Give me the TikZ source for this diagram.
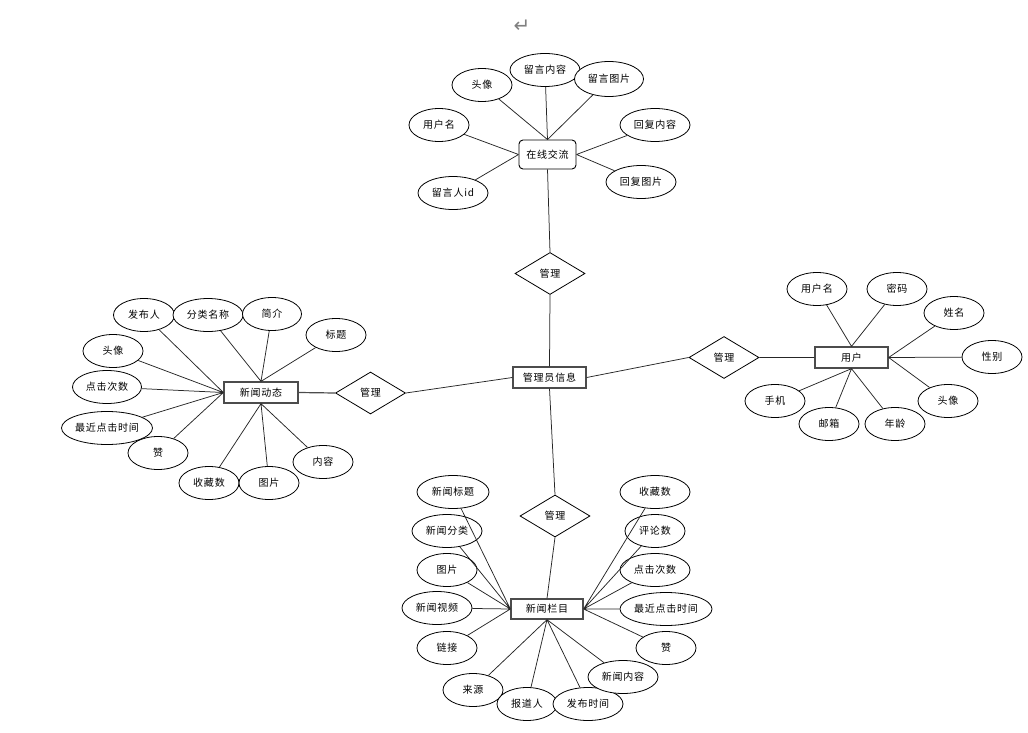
\documentclass[tikz,border=0pt]{standalone}
\usepackage{fontspec}
\newfontfamily\cjk[LetterSpace=8]{Noto Sans CJK SC}
\newfontfamily\symf{DejaVu Sans}
\usetikzlibrary{shapes.geometric}
\tikzset{
  attr/.style={ellipse, draw=black, line width=0.8pt, minimum width=60pt, minimum height=33pt, inner sep=0pt, font=\cjk\fontsize{10}{12}\selectfont, fill=white},
  ent/.style={rectangle, draw=black!70, line width=1.3pt, minimum width=73pt, minimum height=21pt, inner sep=0pt, font=\cjk\fontsize{10}{12}\selectfont, fill=white},
  rel/.style={diamond, draw=black, line width=0.8pt, minimum width=70pt, minimum height=42pt, inner sep=0pt, aspect=1.67, font=\cjk\fontsize{10}{12}\selectfont, fill=white},
  conn/.style={draw=black!85, line width=0.75pt},
}
\begin{document}
\begin{tikzpicture}[x=1pt,y=-1pt]
\useasboundingbox (0,0) rectangle (1028,733);
\node[text=black!50, font=\symf\fontsize{20}{20}\selectfont] (ret) at (522,26) {↵};

% ---------- central ----------
\node[ent] (admin) at (549.5,377.5) {管理员信息};

% ---------- top ----------
\node[rel] (rtop) at (550,273.5) {管理};
\node[ent, rounded corners=4pt, draw=black, line width=0.9pt, minimum width=57pt, minimum height=29pt] (chat) at (547.5,154.5) {在线交流};
\node[attr, minimum width=60pt] (c1) at (482,85) {头像};
\node[attr, minimum width=70pt] (c2) at (545,70) {留言内容};
\node[attr, minimum width=69pt, minimum height=35pt] (c3) at (609,79) {留言图片};
\node[attr, minimum width=60pt] (c4) at (439,125) {用户名};
\node[attr, minimum width=70pt] (c5) at (655,125) {回复内容};
\node[attr, minimum width=70pt] (c6) at (641,182) {回复图片};
\node[attr, minimum width=70pt] (c7) at (453,193) {留言人id};
\path[conn] (c1) -- (chat.north) (c2) -- (chat.north) (c3) -- (chat.north)
  (c4) -- (chat.west) (c7) -- (chat.west) (c5) -- (chat.east) (c6) -- (chat.east);
\path[conn] (chat.south) -- (rtop.north) (rtop.south) -- (admin.north);

% ---------- left ----------
\node[ent, minimum width=74pt] (news) at (261,392.5) {新闻动态};
\node[rel] (rleft) at (370.5,393) {管理};
\path[conn, line width=1.2pt, draw=black!70] (news.east) -- (rleft.west);
\path[conn] (rleft.east) -- (admin.west);
\node[attr, minimum width=61pt] (l1) at (144,315) {发布人};
\node[attr, minimum width=70pt] (l2) at (208,315) {分类名称};
\node[attr, minimum width=59pt] (l3) at (272,314) {简介};
\node[attr] (l4) at (336,335) {标题};
\node[attr] (l5) at (113,351) {头像};
\node[attr, minimum width=69pt] (l6) at (107,387) {点击次数};
\node[attr, minimum width=91pt] (l7) at (107,428) {最近点击时间};
\node[attr] (l8) at (158,453) {赞};
\node[attr] (l9) at (209,483) {收藏数};
\node[attr] (l10) at (269,483) {图片};
\node[attr] (l11) at (323,462) {内容};
\path[conn] (l1) -- (news.west) (l5) -- (news.west) (l6) -- (news.west)
  (l7) -- (news.west) (l8) -- (news.west)
  (l2) -- (news.north) (l3) -- (news.north) (l4) -- (news.north)
  (l9) -- (news.south) (l10) -- (news.south) (l11) -- (news.south);

% ---------- right ----------
\node[ent] (user) at (851.5,357.5) {用户};
\node[rel] (rright) at (724,357.5) {管理};
\path[conn] (admin.east) -- (rright.west) (rright.east) -- (user.west);
\node[attr] (u1) at (817,289) {用户名};
\node[attr] (u2) at (897,289) {密码};
\node[attr] (u3) at (954,313) {姓名};
\node[attr] (u4) at (992,357) {性别};
\node[attr] (u5) at (948,401) {头像};
\node[attr] (u6) at (775,401) {手机};
\node[attr] (u7) at (829,424) {邮箱};
\node[attr] (u8) at (895,424) {年龄};
\path[conn] (u1) -- (user.north) (u2) -- (user.north)
  (u3) -- (user.east) (u4) -- (user.east) (u5) -- (user.east)
  (u6) -- (user.south) (u7) -- (user.south) (u8) -- (user.south);

% ---------- bottom ----------
\node[rel] (rbot) at (555,516) {管理};
\node[ent, minimum width=72pt, minimum height=20pt] (col) at (547,609) {新闻栏目};
\path[conn] (admin.south) -- (rbot.north) (rbot.south) -- (col.north);
\node[attr, minimum width=72pt] (b1) at (453,492) {新闻标题};
\node[attr, minimum width=70pt] (b2) at (447,531) {新闻分类};
\node[attr] (b3) at (447,570) {图片};
\node[attr, minimum width=70pt] (b4) at (437,608) {新闻视频};
\node[attr] (b5) at (447,648) {链接};
\node[attr] (b6) at (473,690) {来源};
\node[attr] (b7) at (527,704) {报道人};
\node[attr, minimum width=70pt] (b8) at (588,704) {发布时间};
\node[attr, minimum width=70pt] (b9) at (623,677) {新闻内容};
\node[attr] (b10) at (666,648) {赞};
\node[attr, minimum width=92pt] (b11) at (666,609) {最近点击时间};
\node[attr, minimum width=70pt] (b12) at (655,570) {点击次数};
\node[attr] (b13) at (655,531) {评论数};
\node[attr, minimum width=70pt] (b14) at (655,492) {收藏数};
\path[conn] (b1) -- (col.west) (b2) -- (col.west) (b3) -- (col.west)
  (b4) -- (col.west) (b5) -- (col.west)
  (b6) -- (col.south) (b7) -- (col.south) (b8) -- (col.south) (b9) -- (col.south)
  (b10) -- (col.east) (b11) -- (col.east) (b12) -- (col.east) (b13) -- (col.east) (b14) -- (col.east);
\end{tikzpicture}
\end{document}
